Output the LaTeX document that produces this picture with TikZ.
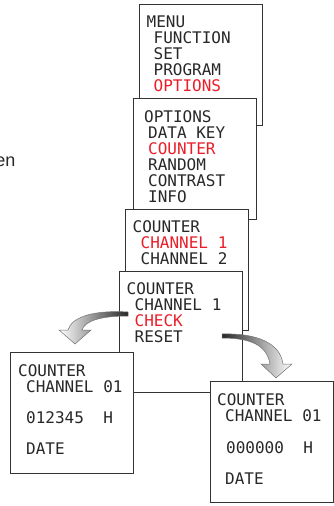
\documentclass[tikz,border=0pt]{standalone}
\usepackage{fontspec}
\setmainfont{Liberation Sans}
\newfontfamily\lcdfont{DejaVu Sans Mono}
\definecolor{lcdred}{RGB}{235,30,40}
\definecolor{lcdink}{RGB}{40,40,40}

\tikzset{
  screen/.style={draw=black!80, line width=0.8pt, fill=white, minimum width=123pt,
    minimum height=121pt, inner sep=0pt, anchor=north west},
  lcd/.style={font=\lcdfont\fontsize{16}{16}\selectfont, text=lcdink, align=left,
    anchor=base west, inner sep=0pt},
  turn/.style={draw=black!55, line width=0.5pt}
}
\newcommand{\sel}[1]{\textcolor{lcdred}{#1}}

\begin{document}
\begin{tikzpicture}[x=1pt,y=-1pt]
  \useasboundingbox (0,0) rectangle (334,506);
  \node[font=\fontsize{18}{18}\selectfont, text=lcdink, anchor=base east, inner sep=0pt] (cut) at (15.5,166) {en};
  % menu screens, stacked (text anchored on its last line)
  \node[screen] (menu) at (139,4) {};
  \node[lcd] (menutext) at ([shift={(7.5,87)}]menu.north west)
    {MENU\\\hspace*{7pt}FUNCTION\\\hspace*{7pt}SET\\\hspace*{7pt}PROGRAM\\\hspace*{7pt}\sel{OPTIONS}};
  \node[screen] (options) at (133,98) {};
  \node[lcd] (optionstext) at ([shift={(11,104)}]options.north west)
    {OPTIONS\\\hspace*{4pt}DATA KEY\\\hspace*{4pt}\sel{COUNTER}\\\hspace*{4pt}RANDOM\\\hspace*{4pt}CONTRAST\\\hspace*{4pt}INFO};
  \node[screen] (counter) at (125,209) {};
  \node[lcd] (countertext) at ([shift={(7.5,55)}]counter.north west)
    {COUNTER\\\hspace*{8pt}\sel{CHANNEL 1}\\\hspace*{8pt}CHANNEL 2};
  \node[screen] (check) at (119,271) {};
  \node[lcd] (checktext) at ([shift={(7.5,71)}]check.north west)
    {COUNTER\\\hspace*{8pt}CHANNEL 1\\\hspace*{8pt}\sel{CHECK}\\\hspace*{8pt}RESET};
  % turning arrows
  \path[turn, left color=white, right color=black!85]
    (128,312) .. controls (96,310) and (72,316) .. (68,330) -- (59,330) -- (75,344)
    -- (91,330) -- (82,330) .. controls (85,321) and (100,316) .. (128,316) -- cycle;
  \path[turn, left color=black!85, right color=white]
    (222,334) .. controls (255,333) and (280,342) .. (283,364) -- (292,364) -- (276,378)
    -- (261,364) -- (270,364) .. controls (267,346) and (252,338) .. (222,338) -- cycle;
  % result screens
  \node[screen] (resultA) at (10,352) {};
  \node[lcd] (resultAtext) at ([shift={(8,102)}]resultA.north west)
    {COUNTER\\\hspace*{8pt}CHANNEL 01\\[15pt]\hspace*{8pt}012345~~H\\[15pt]\hspace*{8pt}DATE};
  \node[screen] (resultB) at (210,381) {};
  \node[lcd] (resultBtext) at ([shift={(7,103)}]resultB.north west)
    {COUNTER\\\hspace*{8pt}CHANNEL 01\\[16pt]\hspace*{9pt}000000~~H\\[15pt]\hspace*{8pt}DATE};
\end{tikzpicture}
\end{document}
